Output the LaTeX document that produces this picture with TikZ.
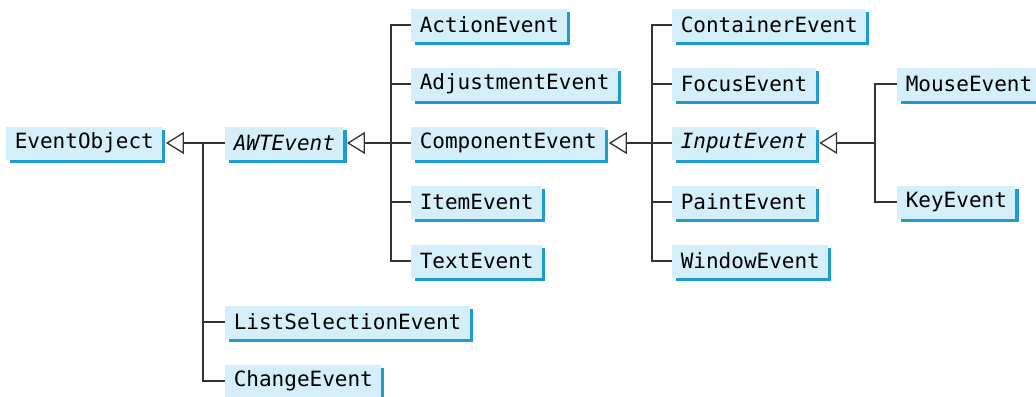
\documentclass[tikz,border=0pt]{standalone}
\usepackage{fontspec}
\setmonofont{DejaVu Sans Mono}
\usetikzlibrary{arrows.meta,positioning,shadows}
\definecolor{clsfill}{HTML}{D4EEFA}
\definecolor{clsshadow}{HTML}{1E9BCF}
\definecolor{linegray}{HTML}{333333}

\begin{document}
\begin{tikzpicture}[
  x=0.5pt, y=-0.5pt,
  cls/.style={rectangle, fill=clsfill, anchor=west, minimum height=16.5pt, inner xsep=4.2pt, inner ysep=0pt,
    font=\ttfamily\fontsize{10.5}{12}\selectfont,
    drop shadow={shadow xshift=1.6pt, shadow yshift=-1.6pt, fill=clsshadow, opacity=1}},
  abstract/.style={cls, font=\ttfamily\itshape\fontsize{10.5}{12}\selectfont},
  stacked/.style={below=29.5pt of #1.west, anchor=west},
  link/.style={line width=0.65pt, draw=linegray},
  inherit/.style={link, -{Triangle[open, length=9pt, width=11pt]}}
]
\useasboundingbox (0,0) rectangle (1036,396);

% root and direct subclasses
\node[cls] (eventobject) at (6,143) {EventObject};
\node[abstract] (awt) at (225,143) {AWTEvent};
\node[cls] (listsel) at (225,322) {ListSelectionEvent};
\node[cls, stacked=listsel] (change) {ChangeEvent};

% AWTEvent subclasses
\node[cls] (action) at (411,25) {ActionEvent};
\node[cls, stacked=action] (adjust) {AdjustmentEvent};
\node[cls, stacked=adjust] (component) {ComponentEvent};
\node[cls, stacked=component] (item) {ItemEvent};
\node[cls, stacked=item] (text) {TextEvent};

% ComponentEvent subclasses
\node[cls] (container) at (672,25) {ContainerEvent};
\node[cls, stacked=container] (focus) {FocusEvent};
\node[abstract, stacked=focus] (input) {InputEvent};
\node[cls, stacked=input] (paint) {PaintEvent};
\node[cls, stacked=paint] (window) {WindowEvent};

% InputEvent subclasses
\node[cls] (mouse) at (897,84) {MouseEvent};
\node[cls] (key) at (897,202) {KeyEvent};

% tree bars
\coordinate (bar0) at (203,143);
\coordinate (bar1) at (391,143);
\coordinate (bar2) at (652,143);
\coordinate (bar3) at (875,143);

\draw[inherit] (awt.west) -- ([xshift=1.6pt]eventobject.east);
\draw[link] (bar0) |- (listsel.west);
\draw[link] (bar0) |- (change.west);

\draw[inherit] (component.west) -- ([xshift=1.6pt]awt.east);
\draw[link] (bar1) |- (action.west);
\draw[link] (bar1) |- (adjust.west);
\draw[link] (bar1) |- (item.west);
\draw[link] (bar1) |- (text.west);

\draw[inherit] (input.west) -- ([xshift=1.6pt]component.east);
\draw[link] (bar2) |- (container.west);
\draw[link] (bar2) |- (focus.west);
\draw[link] (bar2) |- (paint.west);
\draw[link] (bar2) |- (window.west);

\draw[inherit] (bar3) -- ([xshift=1.6pt]input.east);
\draw[link] (bar3) |- (mouse.west);
\draw[link] (bar3) |- (key.west);
\end{tikzpicture}
\end{document}
